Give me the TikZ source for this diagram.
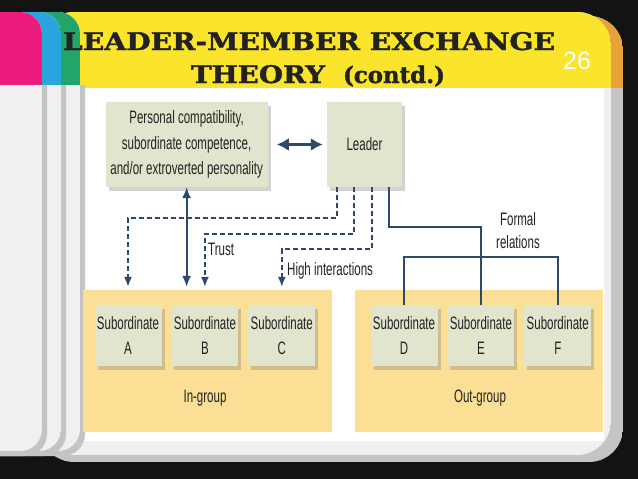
\documentclass[tikz,border=0pt]{standalone}
\usepackage{fontspec}
\setmainfont{Liberation Sans}[FakeStretch=0.64]
\newfontfamily\titlefont{DejaVu Serif}[BoldFeatures={FakeBold=1.5}]
\newfontfamily\pagefont{Liberation Sans}
\usetikzlibrary{arrows.meta,positioning,shadows}
\definecolor{night}{HTML}{131313}
\definecolor{card}{HTML}{F0F0F0}
\definecolor{cardedge}{HTML}{C4C4C4}
\definecolor{yellowhead}{HTML}{FBE52C}
\definecolor{orangeedge}{HTML}{E8A23A}
\definecolor{tabpink}{HTML}{EC1C7C}
\definecolor{tabblue}{HTML}{2AA6DE}
\definecolor{tabgreen}{HTML}{22A56B}
\definecolor{boxfill}{HTML}{E2E5CE}
\definecolor{groupfill}{HTML}{FBDF94}
\definecolor{navy}{HTML}{2D4A6B}
\definecolor{ink}{HTML}{222222}

\begin{document}
\begin{tikzpicture}[x=1pt,y=-1pt,>=Latex,node distance=10pt and 9.5pt,
    txt/.style={text=ink,font=\fontsize{18}{25.5}\selectfont,align=center},
    box/.style={txt,fill=boxfill,inner sep=2pt,drop shadow={opacity=0.35,shadow xshift=3pt,shadow yshift=-4pt}},
    subbox/.style={box,minimum width=67pt,minimum height=61pt},
    group/.style={fill=groupfill,inner sep=0pt},
    dline/.style={navy,line width=1.6pt,dash pattern=on 5pt off 3pt,-{Latex[length=10pt,width=8pt]},shorten >=3pt},
    fline/.style={navy,line width=1.6pt}]
  % slide background
  \useasboundingbox (0,0) rectangle (638,479);
  \fill[night] (0,0) rectangle (638,479);
  % main card
  \begin{scope}
    \clip[rounded corners=34pt] (40,16) rectangle (623,462);
    \fill[cardedge] (40,16) rectangle (623,462);
    \fill[orangeedge] (40,16) rectangle (623,88);
  \end{scope}
  \begin{scope}
    \clip[rounded corners=34pt] (40,12) rectangle (611,455);
    \fill[card] (40,12) rectangle (611,455);
    \fill[yellowhead] (40,12) rectangle (611,88);
  \end{scope}
  \fill[white] (82,88) rectangle (604,441);
  % side tabs
  \foreach \r/\c in {80/tabgreen,61/tabblue,42/tabpink}{
    \fill[cardedge] (-30,85) -- (\r+5,85) [rounded corners=22pt] -- (\r+5,456) -- (-30,456) [sharp corners] -- cycle;
    \begin{scope}
      \clip[rounded corners=22pt] (-30,12) rectangle (\r,451);
      \fill[card] (-30,12) rectangle (\r,451);
      \fill[\c] (-30,12) rectangle (\r,85);
    \end{scope}
  }
  % title
  \node[anchor=base,inner sep=0pt,text=ink,font=\titlefont\bfseries\fontsize{25}{25}\selectfont] (title) at (309,50)
    {\resizebox{492pt}{18pt}{LEADER-MEMBER EXCHANGE}};
  \node[anchor=base,inner sep=0pt,text=ink,font=\titlefont\bfseries\fontsize{25}{25}\selectfont] (subtitle) at (318,83)
    {\resizebox{134pt}{18pt}{THEORY}\hspace{18pt}\resizebox{102pt}{!}{(contd.)}};
  \node[text=white,font=\pagefont\fontsize{25}{25}\selectfont] (page) at (577,61) {26};

  % groups
  \node[group,minimum width=249pt,minimum height=142pt] (ingrp) at (207.5,361) {};
  \node[group,minimum width=248pt,minimum height=142pt] (outgrp) at (479,361) {};
  \node[txt] (inlbl) at (205,398) {In-group};
  \node[txt] (outlbl) at (480,398) {Out-group};

  % boxes
  \node[box,minimum width=75pt,minimum height=85pt] (leader) at (364.5,144.5) {Leader};
  \node[box,minimum width=162pt,minimum height=85pt,left=59pt of leader] (pers)
    {Personal compatibility,\\subordinate competence,\\and/or extroverted personality};
  \node[subbox] (sa) at (128,335.5) {Subordinate\\A};
  \node[subbox,right=of sa] (sb) {Subordinate\\B};
  \node[subbox,right=of sb] (sc) {Subordinate\\C};
  \node[subbox] (sd) at (404,335.5) {Subordinate\\D};
  \node[subbox,right=of sd] (se) {Subordinate\\E};
  \node[subbox,right=of se] (sf) {Subordinate\\F};

  % connectors
  \draw[navy,line width=3.6pt,{Latex[length=12pt,width=13pt]}-{Latex[length=12pt,width=13pt]},shorten <=9pt,shorten >=4pt] (pers) -- (leader);
  \draw[navy,line width=1.8pt,{Latex[length=11pt,width=9pt]}-{Latex[length=11pt,width=9pt]},shorten >=3pt] (pers.south) -- (pers.south |- ingrp.north);
  \draw[dline] ([xshift=-27.5pt]leader.south) -- ++(0,31) -| (sa.north |- ingrp.north);
  \draw[dline] ([xshift=-10.5pt]leader.south) -- ++(0,47) -| (sb.north |- ingrp.north);
  \draw[dline] ([xshift=7.5pt]leader.south) -- ++(0,62) -| (sc.north |- ingrp.north);
  \draw[fline] ([xshift=24.5pt]leader.south) -- ++(0,40) -| (se.north);
  \draw[fline] (sd.north) -- ++(0,-48) -| (sf.north);

  % labels
  \node[txt,anchor=west,inner sep=0pt] (trust) at (208,249) {Trust};
  \node[txt,anchor=west,inner sep=0pt] (high) at (287,271) {High interactions};
  \node[txt,font=\fontsize{18}{23}\selectfont] (formal) at (518,231) {Formal\\relations};
\end{tikzpicture}
\end{document}
